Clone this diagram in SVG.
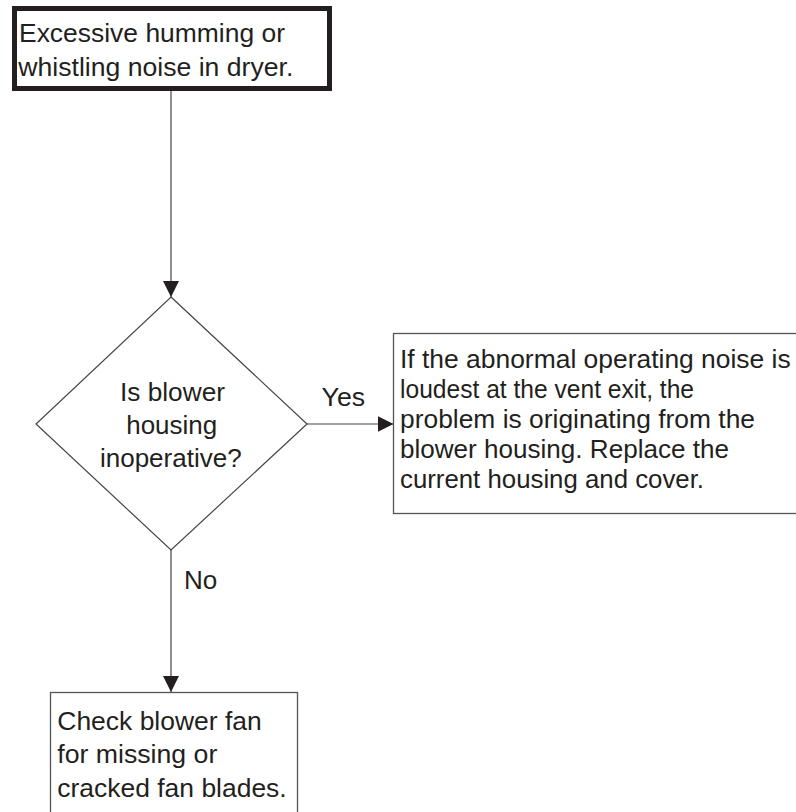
<svg xmlns="http://www.w3.org/2000/svg" width="796" height="812" viewBox="0 0 796 812">
<style>
text{font-family:"Liberation Sans",Arial,Helvetica,sans-serif;font-size:26px;fill:#231f20}
.box{fill:#fff;stroke:#555;stroke-width:1.3}
.thick{fill:#fff;stroke:#231f20;stroke-width:5}
.line{fill:none;stroke:#444;stroke-width:1.2}
.mid{text-anchor:middle}
</style>
<defs>
<marker id="arr" markerUnits="userSpaceOnUse" markerWidth="16" markerHeight="16" viewBox="0 0 15 15" refX="15" refY="7.5" orient="auto">
<path d="M0,0 L15,7.5 L0,15 Z" fill="#231f20"/>
</marker>
</defs>
<rect width="796" height="812" fill="#fff"/>
<g id="connectors">
<line class="line" x1="171" y1="91" x2="171" y2="297" marker-end="url(#arr)"/>
<line class="line" x1="307" y1="424" x2="393.5" y2="424" marker-end="url(#arr)"/>
<line class="line" x1="171" y1="550" x2="171" y2="692" marker-end="url(#arr)"/>
<text x="343.3" y="405.7" class="mid" textLength="43.5" lengthAdjust="spacingAndGlyphs">Yes</text>
<text x="184" y="589" textLength="33.3" lengthAdjust="spacingAndGlyphs">No</text>
</g>
<g id="start">
<rect class="thick" x="14.5" y="8.5" width="315" height="80"/>
<text x="19" y="41.7" textLength="266" lengthAdjust="spacingAndGlyphs">Excessive humming or</text>
<text x="18.3" y="75.7" textLength="275" lengthAdjust="spacingAndGlyphs">whistling noise in dryer.</text>
</g>
<g id="decision">
<polygon class="line" points="171,297 307,424 171,550 36,424" fill="#fff"/>
<text x="172.5" y="400.7" class="mid" textLength="105" lengthAdjust="spacingAndGlyphs">Is blower</text>
<text x="171.7" y="434" class="mid" textLength="91" lengthAdjust="spacingAndGlyphs">housing</text>
<text x="170.8" y="467" class="mid" textLength="141.7" lengthAdjust="spacingAndGlyphs">inoperative?</text>
</g>
<g id="yes-action">
<rect class="box" x="393.5" y="333.5" width="410" height="180"/>
<text x="400" y="368.3" textLength="390.7" lengthAdjust="spacingAndGlyphs">If the abnormal operating noise is</text>
<text x="400" y="398.3" textLength="294" lengthAdjust="spacingAndGlyphs">loudest at the vent exit, the</text>
<text x="400" y="428.3" textLength="355" lengthAdjust="spacingAndGlyphs">problem is originating from the</text>
<text x="400" y="458.3" textLength="329" lengthAdjust="spacingAndGlyphs">blower housing. Replace the</text>
<text x="400" y="488.3" textLength="304" lengthAdjust="spacingAndGlyphs">current housing and cover.</text>
</g>
<g id="no-action">
<rect class="box" x="50.5" y="692.5" width="247" height="130"/>
<text x="57.3" y="730" textLength="204.4" lengthAdjust="spacingAndGlyphs">Check blower fan</text>
<text x="57.3" y="763.3" textLength="160" lengthAdjust="spacingAndGlyphs">for missing or</text>
<text x="57.3" y="796.7" textLength="229.4" lengthAdjust="spacingAndGlyphs">cracked fan blades.</text>
</g>
</svg>
